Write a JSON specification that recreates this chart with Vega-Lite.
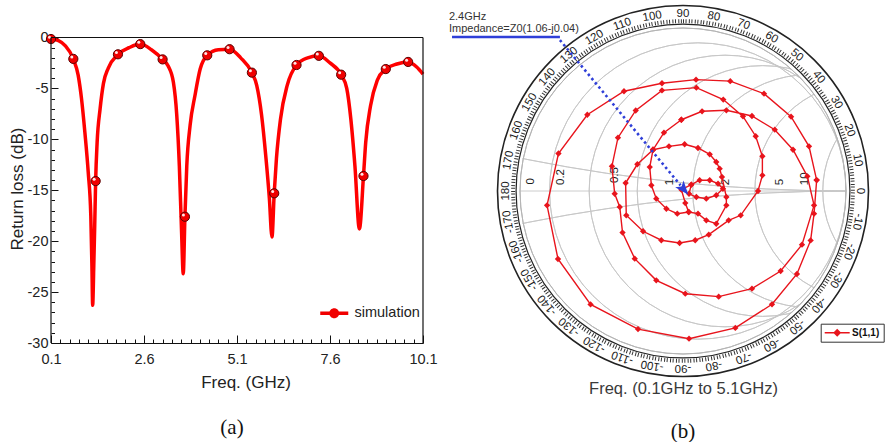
{
  "$schema": "https://vega.github.io/schema/vega-lite/v6.json",
  "background": "white",
  "padding": {"left": 8, "top": 2, "right": 0, "bottom": 0},
  "spacing": 10,
  "config": {
    "view": {"stroke": null},
    "font": "Liberation Sans",
    "axis": {"labelFont": "Liberation Sans", "titleFont": "Liberation Sans", "titleFontWeight": "normal", "grid": false, "labelColor": "#222", "titleColor": "#222", "domainColor": "#111", "tickColor": "#111"},
    "legend": {"labelFont": "Liberation Sans"},
    "title": {"font": "Liberation Serif", "fontWeight": "normal", "fontSize": 21, "color": "#111"}
  },
  "resolve": {"scale": {"x": "independent", "y": "independent", "color": "independent"}, "legend": {"color": "independent"}},
  "hconcat": [
    {
      "width": 372,
      "height": 339,
      "title": {"text": "(a)", "orient": "bottom", "offset": 26, "dx": -5},
      "data": {"values": [
        {"f": 0.1, "db": -0.15, "m": 1}, {"f": 0.3, "db": -0.3}, {"f": 0.48, "db": -0.8},
        {"f": 0.7, "db": -2.1, "m": 1}, {"f": 0.83, "db": -3.7}, {"f": 0.92, "db": -6.0},
        {"f": 1.01, "db": -9.3}, {"f": 1.1, "db": -13.2}, {"f": 1.17, "db": -17.5},
        {"f": 1.2, "db": -22.4}, {"f": 1.22, "db": -26.3}, {"f": 1.25, "db": -22.4},
        {"f": 1.275, "db": -18.5}, {"f": 1.3, "db": -14.1, "m": 1}, {"f": 1.34, "db": -10.3},
        {"f": 1.42, "db": -7.0}, {"f": 1.51, "db": -4.5}, {"f": 1.64, "db": -3.0},
        {"f": 1.9, "db": -1.65, "m": 1}, {"f": 2.2, "db": -1.0}, {"f": 2.5, "db": -0.65, "m": 1},
        {"f": 2.8, "db": -1.2}, {"f": 3.1, "db": -2.15, "m": 1}, {"f": 3.25, "db": -2.8},
        {"f": 3.39, "db": -4.4}, {"f": 3.48, "db": -7.6}, {"f": 3.55, "db": -12.6},
        {"f": 3.61, "db": -19.1}, {"f": 3.655, "db": -23.2}, {"f": 3.7, "db": -17.6, "m": 1},
        {"f": 3.75, "db": -12.6}, {"f": 3.84, "db": -8.6}, {"f": 3.97, "db": -5.7},
        {"f": 4.11, "db": -3.1}, {"f": 4.3, "db": -1.75, "m": 1}, {"f": 4.6, "db": -1.2},
        {"f": 4.9, "db": -1.15, "m": 1}, {"f": 5.2, "db": -2.0}, {"f": 5.5, "db": -3.45, "m": 1},
        {"f": 5.63, "db": -4.7}, {"f": 5.76, "db": -7.6}, {"f": 5.88, "db": -11.9},
        {"f": 5.97, "db": -15.8}, {"f": 6.04, "db": -19.6}, {"f": 6.1, "db": -15.3, "m": 1},
        {"f": 6.16, "db": -11.9}, {"f": 6.27, "db": -8.0}, {"f": 6.45, "db": -4.7},
        {"f": 6.7, "db": -2.7, "m": 1}, {"f": 7.0, "db": -2.0}, {"f": 7.3, "db": -1.8, "m": 1},
        {"f": 7.6, "db": -2.5}, {"f": 7.9, "db": -3.65, "m": 1}, {"f": 8.05, "db": -5.0},
        {"f": 8.16, "db": -8.0}, {"f": 8.27, "db": -12.6}, {"f": 8.39, "db": -18.8},
        {"f": 8.5, "db": -13.6, "m": 1}, {"f": 8.56, "db": -10.3}, {"f": 8.69, "db": -6.7},
        {"f": 8.87, "db": -4.2}, {"f": 9.1, "db": -3.1, "m": 1}, {"f": 9.4, "db": -2.6},
        {"f": 9.7, "db": -2.4, "m": 1}, {"f": 9.93, "db": -2.9}, {"f": 10.1, "db": -3.6}
      ]},
      "resolve": {"axis": {"x": "independent", "y": "independent"}},
      "layer": [
        {
          "mark": {"type": "line", "color": "#ff0000", "strokeWidth": 3.5, "interpolate": "monotone"},
          "encoding": {
            "x": {"field": "f", "type": "quantitative", "scale": {"domain": [0.1, 10.1], "nice": false, "zero": false},
              "axis": {"orient": "bottom", "values": [0.1, 2.6, 5.1, 7.6, 10.1], "format": ".1f", "tickSize": -8, "labelPadding": 17, "labelFontSize": 14.5, "labelFlush": false, "domainWidth": 1.2, "title": "Freq. (GHz)", "titleFontSize": 17, "titlePadding": 9, "titleX": 194.5}},
            "y": {"field": "db", "type": "quantitative", "scale": {"domain": [-30, 3.29], "nice": false, "zero": false},
              "axis": {"orient": "left", "values": [0, -5, -10, -15, -20, -25, -30], "tickSize": -7, "labelPadding": 10, "labelFontSize": 14.5, "labelExpr": "datum.value + ''", "domain": false, "title": "Return loss (dB)", "titleFontSize": 17, "titlePadding": 1, "titleY": 184.5}}
          }
        },
        {
          "transform": [{"filter": "datum.m == 1"}],
          "mark": {"type": "point", "filled": true, "size": 85, "opacity": 1, "stroke": "#5a0000", "strokeWidth": 1},
          "encoding": {
            "x": {"field": "f", "type": "quantitative", "scale": {"domain": [0.1, 10.1], "nice": false, "zero": false},
              "axis": {"orient": "bottom", "values": [0.35, 0.6, 0.85, 1.1, 1.35, 1.6, 1.85, 2.1, 2.35, 2.85, 3.1, 3.35, 3.6, 3.85, 4.1, 4.35, 4.6, 4.85, 5.35, 5.6, 5.85, 6.1, 6.35, 6.6, 6.85, 7.1, 7.35, 7.85, 8.1, 8.35, 8.6, 8.85, 9.1, 9.35, 9.6, 9.85], "tickSize": -4, "labels": false, "domain": false, "title": null}},
            "y": {"field": "db", "type": "quantitative", "scale": {"domain": [-30, 3.29], "nice": false, "zero": false},
              "axis": {"orient": "left", "values": [-1, -2, -3, -4, -6, -7, -8, -9, -11, -12, -13, -14, -16, -17, -18, -19, -21, -22, -23, -24, -26, -27, -28, -29], "tickSize": -3.5, "labels": false, "domain": false, "title": null}},
            "color": {"datum": "simulation", "type": "nominal", "scale": {"range": ["#f00000"]},
              "legend": {"title": null, "orient": "none", "legendX": 268, "legendY": 302, "labelFontSize": 14.5, "labelColor": "#222", "labelOffset": 21, "padding": 0, "symbolSize": 144, "symbolStrokeWidth": 0,
                "symbolType": "M-1,-0.29H3.67V0.29H-1Z M2.16,0A0.83,0.83,0,1,1,0.5,0A0.83,0.83,0,1,1,2.16,0Z"}}
          }
        },
        {
          "transform": [{"filter": "datum.m == 1"}],
          "mark": {"type": "point", "filled": true, "size": 9, "color": "#ffffff", "opacity": 0.9, "xOffset": -1.5, "yOffset": -1.8},
          "encoding": {
            "x": {"field": "f", "type": "quantitative", "scale": {"domain": [0.1, 10.1], "nice": false, "zero": false}, "axis": null},
            "y": {"field": "db", "type": "quantitative", "scale": {"domain": [-30, 3.29], "nice": false, "zero": false}, "axis": null}
          }
        },
        {
          "data": {"values": [{}]},
          "mark": {"type": "rule", "color": "#111", "strokeWidth": 1.2},
          "encoding": {
            "x": {"datum": 0.1, "type": "quantitative", "scale": {"domain": [0.1, 10.1], "nice": false, "zero": false}, "axis": null},
            "x2": {"datum": 10.1},
            "y": {"datum": 0, "type": "quantitative", "scale": {"domain": [-30, 3.29], "nice": false, "zero": false}, "axis": null}
          }
        },
        {
          "data": {"values": [{}]},
          "mark": {"type": "rule", "color": "#111", "strokeWidth": 1.2},
          "encoding": {
            "x": {"datum": 0.1, "type": "quantitative", "scale": {"domain": [0.1, 10.1], "nice": false, "zero": false}, "axis": null},
            "y": {"datum": -30, "type": "quantitative", "scale": {"domain": [-30, 3.29], "nice": false, "zero": false}, "axis": null},
            "y2": {"datum": 0}
          }
        },
        {
          "data": {"values": [{}]},
          "mark": {"type": "rule", "color": "#111", "strokeWidth": 1.2},
          "encoding": {
            "x": {"datum": 10.1, "type": "quantitative", "scale": {"domain": [0.1, 10.1], "nice": false, "zero": false}, "axis": null},
            "y": {"datum": -30, "type": "quantitative", "scale": {"domain": [-30, 3.29], "nice": false, "zero": false}, "axis": null},
            "y2": {"datum": 0}
          }
        }
      ]
    },
    {
      "width": 420,
      "height": 374,
      "title": {"text": "(b)", "orient": "bottom", "offset": 24},
      "resolve": {"scale": {"theta": "independent"}},
      "layer": [
        {
          "data": {"values": [
            {"r": 0.1, "cx": 0.0909, "rad": 0.9091}, {"r": 0.2, "cx": 0.1667, "rad": 0.8333},
            {"r": 0.3, "cx": 0.2308, "rad": 0.7692}, {"r": 0.4, "cx": 0.2857, "rad": 0.7143},
            {"r": 0.5, "cx": 0.3333, "rad": 0.6667}, {"r": 0.6, "cx": 0.375, "rad": 0.625},
            {"r": 0.7, "cx": 0.4118, "rad": 0.5882}, {"r": 0.8, "cx": 0.4444, "rad": 0.5556},
            {"r": 0.9, "cx": 0.4737, "rad": 0.5263}, {"r": 1, "cx": 0.5, "rad": 0.5},
            {"r": 1.2, "cx": 0.5455, "rad": 0.4545}, {"r": 1.4, "cx": 0.5833, "rad": 0.4167},
            {"r": 1.6, "cx": 0.6154, "rad": 0.3846}, {"r": 1.8, "cx": 0.6429, "rad": 0.3571},
            {"r": 2, "cx": 0.6667, "rad": 0.3333}, {"r": 3, "cx": 0.75, "rad": 0.25},
            {"r": 4, "cx": 0.8, "rad": 0.2}, {"r": 5, "cx": 0.8333, "rad": 0.1667},
            {"r": 10, "cx": 0.9091, "rad": 0.0909}, {"r": 20, "cx": 0.9524, "rad": 0.0476},
            {"r": 50, "cx": 0.9804, "rad": 0.0196}
          ]},
          "mark": {"type": "arc", "filled": false, "stroke": "#c6c6c6", "strokeWidth": 0.9},
          "encoding": {
            "x": {"field": "cx", "type": "quantitative", "scale": {"domain": [-1.2883, 1.2883], "nice": false, "zero": false},
              "axis": {"title": "Freq. (0.1GHz to 5.1GHz)", "labels": false, "ticks": false, "domain": false, "titleFontSize": 16.5, "titleColor": "#3a3a3a", "titlePadding": 2}},
            "y": {"datum": 0, "type": "quantitative", "scale": {"domain": [-1.1472, 1.1472], "nice": false, "zero": false}, "axis": null},
            "radius": {"field": "rad", "type": "quantitative", "scale": {"type": "linear", "domain": [0, 1], "range": [0, 163], "zero": true}},
            "radius2": {"field": "rad"},
            "theta": {"datum": 0, "type": "quantitative", "scale": {"domain": [0, 360], "range": [0, 6.283185307]}},
            "theta2": {"datum": 360}
          }
        },
        {
          "data": {"values": [
            {"x": 0.1, "cy": 10, "rad": 10}, {"x": 0.2, "cy": 5, "rad": 5}, {"x": 0.3, "cy": 3.3333, "rad": 3.3333},
            {"x": 0.4, "cy": 2.5, "rad": 2.5}, {"x": 0.5, "cy": 2, "rad": 2}, {"x": 0.6, "cy": 1.6667, "rad": 1.6667},
            {"x": 0.7, "cy": 1.4286, "rad": 1.4286}, {"x": 0.8, "cy": 1.25, "rad": 1.25}, {"x": 0.9, "cy": 1.1111, "rad": 1.1111},
            {"x": 1, "cy": 1, "rad": 1}, {"x": 1.2, "cy": 0.8333, "rad": 0.8333}, {"x": 1.4, "cy": 0.7143, "rad": 0.7143},
            {"x": 1.6, "cy": 0.625, "rad": 0.625}, {"x": 1.8, "cy": 0.5556, "rad": 0.5556}, {"x": 2, "cy": 0.5, "rad": 0.5},
            {"x": 3, "cy": 0.3333, "rad": 0.3333}, {"x": 4, "cy": 0.25, "rad": 0.25}, {"x": 5, "cy": 0.2, "rad": 0.2},
            {"x": 10, "cy": 0.1, "rad": 0.1}, {"x": 20, "cy": 0.05, "rad": 0.05}, {"x": 50, "cy": 0.02, "rad": 0.02},
            {"x": -0.1, "cy": -10, "rad": 10}, {"x": -0.2, "cy": -5, "rad": 5}, {"x": -0.3, "cy": -3.3333, "rad": 3.3333},
            {"x": -0.4, "cy": -2.5, "rad": 2.5}, {"x": -0.5, "cy": -2, "rad": 2}, {"x": -0.6, "cy": -1.6667, "rad": 1.6667},
            {"x": -0.7, "cy": -1.4286, "rad": 1.4286}, {"x": -0.8, "cy": -1.25, "rad": 1.25}, {"x": -0.9, "cy": -1.1111, "rad": 1.1111},
            {"x": -1, "cy": -1, "rad": 1}, {"x": -1.2, "cy": -0.8333, "rad": 0.8333}, {"x": -1.4, "cy": -0.7143, "rad": 0.7143},
            {"x": -1.6, "cy": -0.625, "rad": 0.625}, {"x": -1.8, "cy": -0.5556, "rad": 0.5556}, {"x": -2, "cy": -0.5, "rad": 0.5},
            {"x": -3, "cy": -0.3333, "rad": 0.3333}, {"x": -4, "cy": -0.25, "rad": 0.25}, {"x": -5, "cy": -0.2, "rad": 0.2},
            {"x": -10, "cy": -0.1, "rad": 0.1}, {"x": -20, "cy": -0.05, "rad": 0.05}, {"x": -50, "cy": -0.02, "rad": 0.02}
          ]},
          "mark": {"type": "arc", "filled": false, "stroke": "#c6c6c6", "strokeWidth": 0.9, "clip": true},
          "encoding": {
            "x": {"datum": 1, "type": "quantitative", "scale": {"domain": [-1.2883, 1.2883], "nice": false, "zero": false}},
            "y": {"field": "cy", "type": "quantitative", "scale": {"domain": [-1.1472, 1.1472], "nice": false, "zero": false}, "axis": null},
            "radius": {"field": "rad", "type": "quantitative", "scale": {"type": "linear", "domain": [0, 1], "range": [0, 163], "zero": true}},
            "radius2": {"field": "rad"},
            "theta": {"datum": 0, "type": "quantitative", "scale": {"domain": [0, 360], "range": [0, 6.283185307]}},
            "theta2": {"datum": 360}
          }
        },
        {
          "data": {"values": [{}]},
          "mark": {"type": "arc", "color": "white", "clip": true},
          "encoding": {
            "x": {"datum": 0, "type": "quantitative", "scale": {"domain": [-1.2883, 1.2883], "nice": false, "zero": false}},
            "y": {"datum": 0, "type": "quantitative", "scale": {"domain": [-1.1472, 1.1472], "nice": false, "zero": false}, "axis": null},
            "radius": {"datum": 1.9, "type": "quantitative", "scale": {"type": "linear", "domain": [0, 1], "range": [0, 163], "zero": true}}, "radius2": {"datum": 1.004},
            "theta": {"datum": 0, "type": "quantitative", "scale": {"domain": [0, 360], "range": [0, 6.283185307]}}, "theta2": {"datum": 360}
          }
        },
        {
          "data": {"values": [{}]},
          "mark": {"type": "rule", "color": "#c6c6c6", "strokeWidth": 0.9},
          "encoding": {
            "x": {"datum": -1, "type": "quantitative", "scale": {"domain": [-1.2883, 1.2883], "nice": false, "zero": false}},
            "x2": {"datum": 1},
            "y": {"datum": 0, "type": "quantitative", "scale": {"domain": [-1.1472, 1.1472], "nice": false, "zero": false}, "axis": null}
          }
        },
        {
          "data": {"values": [{}]},
          "mark": {"type": "arc", "filled": false, "stroke": "#b5b5b5", "strokeWidth": 1},
          "encoding": {
            "x": {"datum": 0, "type": "quantitative", "scale": {"domain": [-1.2883, 1.2883], "nice": false, "zero": false}},
            "y": {"datum": 0, "type": "quantitative", "scale": {"domain": [-1.1472, 1.1472], "nice": false, "zero": false}, "axis": null},
            "radius": {"datum": 1, "type": "quantitative", "scale": {"type": "linear", "domain": [0, 1], "range": [0, 163], "zero": true}}, "radius2": {"datum": 1},
            "theta": {"datum": 0, "type": "quantitative", "scale": {"domain": [0, 360], "range": [0, 6.283185307]}}, "theta2": {"datum": 360}
          }
        },
        {
          "data": {"values": [{}]},
          "mark": {"type": "arc", "filled": false, "stroke": "#222", "strokeWidth": 1.2},
          "encoding": {
            "x": {"datum": 0, "type": "quantitative", "scale": {"domain": [-1.2883, 1.2883], "nice": false, "zero": false}},
            "y": {"datum": 0, "type": "quantitative", "scale": {"domain": [-1.1472, 1.1472], "nice": false, "zero": false}, "axis": null},
            "radius": {"datum": 1.024, "type": "quantitative", "scale": {"type": "linear", "domain": [0, 1], "range": [0, 163], "zero": true}}, "radius2": {"datum": 1.024},
            "theta": {"datum": 0, "type": "quantitative", "scale": {"domain": [0, 360], "range": [0, 6.283185307]}}, "theta2": {"datum": 360}
          }
        },
        {
          "data": {"values": [{}]},
          "mark": {"type": "arc", "filled": false, "stroke": "#333", "strokeWidth": 4, "strokeDash": [1, 4.9]},
          "encoding": {
            "x": {"datum": 0, "type": "quantitative", "scale": {"domain": [-1.2883, 1.2883], "nice": false, "zero": false}},
            "y": {"datum": 0, "type": "quantitative", "scale": {"domain": [-1.1472, 1.1472], "nice": false, "zero": false}, "axis": null},
            "radius": {"datum": 1.042, "type": "quantitative", "scale": {"type": "linear", "domain": [0, 1], "range": [0, 163], "zero": true}}, "radius2": {"datum": 1.042},
            "theta": {"datum": 0, "type": "quantitative", "scale": {"domain": [0, 360], "range": [0, 6.283185307]}}, "theta2": {"datum": 360}
          }
        },
        {
          "data": {"values": [{}]},
          "mark": {"type": "arc", "filled": false, "stroke": "#222", "strokeWidth": 1.6},
          "encoding": {
            "x": {"datum": 0, "type": "quantitative", "scale": {"domain": [-1.2883, 1.2883], "nice": false, "zero": false}},
            "y": {"datum": 0, "type": "quantitative", "scale": {"domain": [-1.1472, 1.1472], "nice": false, "zero": false}, "axis": null},
            "radius": {"datum": 1.138, "type": "quantitative", "scale": {"type": "linear", "domain": [0, 1], "range": [0, 163], "zero": true}}, "radius2": {"datum": 1.138},
            "theta": {"datum": 0, "type": "quantitative", "scale": {"domain": [0, 360], "range": [0, 6.283185307]}}, "theta2": {"datum": 360}
          }
        },
        {
          "data": {"values": [
            {"d": -170}, {"d": -160}, {"d": -150}, {"d": -140}, {"d": -130}, {"d": -120}, {"d": -110}, {"d": -100}, {"d": -90},
            {"d": -80}, {"d": -70}, {"d": -60}, {"d": -50}, {"d": -40}, {"d": -30}, {"d": -20}, {"d": -10}, {"d": 0},
            {"d": 10}, {"d": 20}, {"d": 30}, {"d": 40}, {"d": 50}, {"d": 60}, {"d": 70}, {"d": 80}, {"d": 90},
            {"d": 100}, {"d": 110}, {"d": 120}, {"d": 130}, {"d": 140}, {"d": 150}, {"d": 160}, {"d": 170}, {"d": 180}
          ]},
          "mark": {"type": "text", "fontSize": 11.5, "color": "#1a1a1a", "align": "center", "baseline": "middle"},
          "encoding": {
            "x": {"datum": 0, "type": "quantitative", "scale": {"domain": [-1.2883, 1.2883], "nice": false, "zero": false}},
            "y": {"datum": 0, "type": "quantitative", "scale": {"domain": [-1.1472, 1.1472], "nice": false, "zero": false}, "axis": null},
            "theta": {"field": "d", "type": "quantitative", "stack": null, "scale": {"domain": [-180, 180], "range": [4.71238898, -1.57079633]}},
            "radius": {"datum": 1.086, "type": "quantitative", "scale": {"type": "linear", "domain": [0, 1], "range": [0, 163], "zero": true}},
            "angle": {"field": "d", "type": "quantitative", "scale": {"domain": [-180, 180], "range": [270, -90]}},
            "text": {"field": "d", "type": "nominal"}
          }
        },
        {
          "data": {"values": [
            {"t": "0", "u": -0.93, "v": 0.06}, {"t": "0.2", "u": -0.747, "v": 0.086}, {"t": "0.5", "u": -0.419, "v": 0.098},
            {"t": "1", "u": -0.082, "v": 0.055}, {"t": "2", "u": 0.266, "v": 0.055}, {"t": "5", "u": 0.597, "v": 0.055}, {"t": "10", "u": 0.746, "v": 0.075}
          ]},
          "mark": {"type": "text", "fontSize": 11.5, "color": "#1a1a1a", "angle": 270, "align": "center", "baseline": "middle"},
          "encoding": {
            "x": {"field": "u", "type": "quantitative", "scale": {"domain": [-1.2883, 1.2883], "nice": false, "zero": false}},
            "y": {"field": "v", "type": "quantitative", "scale": {"domain": [-1.1472, 1.1472], "nice": false, "zero": false}, "axis": null},
            "text": {"field": "t", "type": "nominal"}
          }
        },
        {
          "data": {"name": "trace", "values": [
            {"i": 1, "g": "a", "u": 0.820, "v": 0.067}, {"i": 2, "g": "a", "u": 0.804, "v": -0.139}, {"i": 3, "g": "a", "u": 0.783, "v": -0.303},
            {"i": 4, "g": "a", "u": 0.699, "v": -0.509}, {"i": 5, "g": "a", "u": 0.546, "v": -0.695}, {"i": 6, "g": "a", "u": 0.321, "v": -0.840},
            {"i": 7, "g": "a", "u": 0.037, "v": -0.906}, {"i": 8, "g": "a", "u": -0.276, "v": -0.847}, {"i": 9, "g": "a", "u": -0.567, "v": -0.696},
            {"i": 10, "g": "a", "u": -0.767, "v": -0.417}, {"i": 11, "g": "a", "u": -0.834, "v": -0.088}, {"i": 12, "g": "a", "u": -0.764, "v": 0.230},
            {"i": 13, "g": "a", "u": -0.587, "v": 0.468}, {"i": 14, "g": "a", "u": -0.362, "v": 0.612}, {"i": 15, "g": "a", "u": -0.129, "v": 0.661},
            {"i": 16, "g": "a", "u": 0.080, "v": 0.683}, {"i": 17, "g": "a", "u": 0.290, "v": 0.674}, {"i": 18, "g": "a", "u": 0.497, "v": 0.597},
            {"i": 19, "g": "a", "u": 0.663, "v": 0.456}, {"i": 20, "g": "a", "u": 0.773, "v": 0.274}, {"i": 21, "g": "a", "u": 0.820, "v": 0.067},
            {"i": 22, "g": "b", "u": -0.010, "v": 0.437}, {"i": 23, "g": "b", "u": 0.117, "v": 0.489}, {"i": 24, "g": "b", "u": 0.266, "v": 0.495},
            {"i": 25, "g": "b", "u": 0.423, "v": 0.460}, {"i": 26, "g": "b", "u": 0.563, "v": 0.376}, {"i": 27, "g": "b", "u": 0.675, "v": 0.253},
            {"i": 28, "g": "b", "u": 0.763, "v": 0.090}, {"i": 29, "g": "b", "u": 0.804, "v": -0.088}, {"i": 30, "g": "b", "u": 0.730, "v": -0.329},
            {"i": 31, "g": "b", "u": 0.599, "v": -0.491}, {"i": 32, "g": "b", "u": 0.423, "v": -0.599}, {"i": 33, "g": "b", "u": 0.219, "v": -0.648},
            {"i": 34, "g": "b", "u": 0.014, "v": -0.630}, {"i": 35, "g": "b", "u": -0.164, "v": -0.548}, {"i": 36, "g": "b", "u": -0.296, "v": -0.415},
            {"i": 37, "g": "b", "u": -0.371, "v": -0.255}, {"i": 38, "g": "b", "u": -0.388, "v": -0.098}, {"i": 39, "g": "b", "u": -0.419, "v": -0.017},
            {"i": 40, "g": "b", "u": -0.436, "v": 0.152}, {"i": 41, "g": "b", "u": -0.399, "v": 0.327}, {"i": 42, "g": "b", "u": -0.290, "v": 0.494},
            {"i": 43, "g": "b", "u": -0.129, "v": 0.617}, {"i": 44, "g": "b", "u": 0.082, "v": 0.634}, {"i": 45, "g": "b", "u": 0.247, "v": 0.561},
            {"i": 46, "g": "b", "u": 0.368, "v": 0.458}, {"i": 47, "g": "b", "u": 0.446, "v": 0.336}, {"i": 48, "g": "b", "u": 0.487, "v": 0.213},
            {"i": 49, "g": "b", "u": 0.487, "v": 0.096}, {"i": 50, "g": "b", "u": 0.460, "v": 0.000}, {"i": 51, "g": "b", "u": 0.354, "v": -0.149},
            {"i": 52, "g": "b", "u": 0.280, "v": -0.180}, {"i": 53, "g": "b", "u": 0.158, "v": -0.268}, {"i": 54, "g": "b", "u": 0.075, "v": -0.302},
            {"i": 55, "g": "b", "u": -0.021, "v": -0.319}, {"i": 56, "g": "b", "u": -0.133, "v": -0.302}, {"i": 57, "g": "b", "u": -0.245, "v": -0.247},
            {"i": 58, "g": "b", "u": -0.348, "v": -0.149}, {"i": 59, "g": "b", "u": -0.352, "v": 0.049}, {"i": 60, "g": "b", "u": -0.280, "v": 0.164},
            {"i": 61, "g": "b", "u": -0.184, "v": 0.253}, {"i": 62, "g": "b", "u": -0.117, "v": 0.358}, {"i": 63, "g": "b", "u": -0.010, "v": 0.437},
            {"i": 64, "g": "d", "u": -0.184, "v": 0.253}, {"i": 65, "g": "d", "u": -0.086, "v": 0.274}, {"i": 66, "g": "d", "u": 0.010, "v": 0.287},
            {"i": 67, "g": "d", "u": 0.092, "v": 0.264}, {"i": 68, "g": "d", "u": 0.164, "v": 0.225}, {"i": 69, "g": "d", "u": 0.204, "v": 0.178},
            {"i": 70, "g": "d", "u": 0.225, "v": 0.137}, {"i": 71, "g": "d", "u": 0.239, "v": 0.086}, {"i": 72, "g": "d", "u": 0.266, "v": -0.037},
            {"i": 73, "g": "d", "u": 0.266, "v": -0.088}, {"i": 74, "g": "d", "u": 0.204, "v": -0.201}, {"i": 75, "g": "d", "u": 0.143, "v": -0.180},
            {"i": 76, "g": "d", "u": 0.092, "v": -0.139}, {"i": 77, "g": "d", "u": 0.035, "v": -0.129}, {"i": 78, "g": "d", "u": 0.014, "v": -0.074},
            {"i": 79, "g": "d", "u": -0.010, "v": 0.008}, {"i": 80, "g": "d", "u": 0.051, "v": 0.039}, {"i": 81, "g": "d", "u": 0.102, "v": 0.066},
            {"i": 82, "g": "d", "u": 0.164, "v": 0.066}, {"i": 83, "g": "d", "u": 0.215, "v": 0.045}, {"i": 84, "g": "d", "u": 0.245, "v": 0.014},
            {"i": 85, "g": "d", "u": 0.204, "v": -0.026}, {"i": 86, "g": "d", "u": 0.143, "v": -0.047}, {"i": 87, "g": "d", "u": 0.082, "v": -0.037},
            {"i": 88, "g": "d", "u": 0.037, "v": -0.017}, {"i": 89, "g": "d", "u": 0.051, "v": 0.039},
            {"i": 90, "g": "f", "u": -0.184, "v": 0.253}, {"i": 91, "g": "f", "u": -0.204, "v": 0.147}, {"i": 92, "g": "f", "u": -0.194, "v": 0.035},
            {"i": 93, "g": "f", "u": -0.164, "v": -0.047}, {"i": 94, "g": "f", "u": -0.102, "v": -0.109}, {"i": 95, "g": "f", "u": -0.035, "v": -0.139},
            {"i": 96, "g": "f", "u": 0.035, "v": -0.129}
          ]},
          "mark": {"type": "line", "color": "#e8141c", "strokeWidth": 1.4},
          "encoding": {
            "x": {"field": "u", "type": "quantitative", "scale": {"domain": [-1.2883, 1.2883], "nice": false, "zero": false}},
            "y": {"field": "v", "type": "quantitative", "scale": {"domain": [-1.1472, 1.1472], "nice": false, "zero": false}, "axis": null},
            "order": {"field": "i", "type": "quantitative"},
            "detail": {"field": "g", "type": "nominal"}
          }
        },
        {
          "data": {"name": "trace"},
          "mark": {"type": "point", "shape": "diamond", "filled": true, "size": 40, "opacity": 1},
          "encoding": {
            "x": {"field": "u", "type": "quantitative", "scale": {"domain": [-1.2883, 1.2883], "nice": false, "zero": false}},
            "y": {"field": "v", "type": "quantitative", "scale": {"domain": [-1.1472, 1.1472], "nice": false, "zero": false}, "axis": null},
            "color": {"datum": "S(1,1)", "type": "nominal", "scale": {"range": ["#e8141c"]},
              "legend": {"title": null, "orient": "none", "legendX": 347.7, "legendY": 319.7, "padding": 4, "fillColor": "white", "strokeColor": "#333",
                "labelFontSize": 10, "labelFontWeight": "bold", "labelColor": "#111", "labelOffset": 17.3, "symbolSize": 100, "symbolStrokeWidth": 0,
                "symbolType": "M-1,-0.15H4V0.15H-1Z M1.5,-0.8L2.3,0L1.5,0.8L0.7,0Z"}}
          }
        },
        {
          "data": {"values": [{}]},
          "mark": {"type": "text", "text": ["2.4GHz", "Impedance=Z0(1.06-j0.04)"], "align": "left", "baseline": "top", "fontSize": 11, "lineHeight": 12, "color": "#333"},
          "encoding": {
            "x": {"datum": -1.436, "type": "quantitative", "scale": {"domain": [-1.2883, 1.2883], "nice": false, "zero": false}},
            "y": {"datum": 1.107, "type": "quantitative", "scale": {"domain": [-1.1472, 1.1472], "nice": false, "zero": false}, "axis": null}
          }
        },
        {
          "data": {"values": [{}]},
          "mark": {"type": "rule", "color": "#2f3fd8", "strokeWidth": 2.5},
          "encoding": {
            "x": {"datum": -1.417, "type": "quantitative", "scale": {"domain": [-1.2883, 1.2883], "nice": false, "zero": false}},
            "x2": {"datum": -0.755},
            "y": {"datum": 0.945, "type": "quantitative", "scale": {"domain": [-1.1472, 1.1472], "nice": false, "zero": false}, "axis": null}
          }
        },
        {
          "data": {"values": [{}]},
          "mark": {"type": "rule", "color": "#2f3fd8", "strokeWidth": 2.6, "strokeDash": [2.5, 3]},
          "encoding": {
            "x": {"datum": -0.755, "type": "quantitative", "scale": {"domain": [-1.2883, 1.2883], "nice": false, "zero": false}},
            "x2": {"datum": -0.0152},
            "y": {"datum": 0.926, "type": "quantitative", "scale": {"domain": [-1.1472, 1.1472], "nice": false, "zero": false}, "axis": null},
            "y2": {"datum": 0.035}
          }
        },
        {
          "data": {"values": [{}]},
          "mark": {"type": "point", "shape": "M0,-1L0.7,0.8L0,0.35L-0.7,0.8Z", "filled": true, "color": "#2f3fd8", "opacity": 1, "size": 243, "angle": 140.3},
          "encoding": {
            "x": {"datum": 0.002, "type": "quantitative", "scale": {"domain": [-1.2883, 1.2883], "nice": false, "zero": false}},
            "y": {"datum": 0.0143, "type": "quantitative", "scale": {"domain": [-1.1472, 1.1472], "nice": false, "zero": false}, "axis": null}
          }
        }
      ]
    }
  ]
}
